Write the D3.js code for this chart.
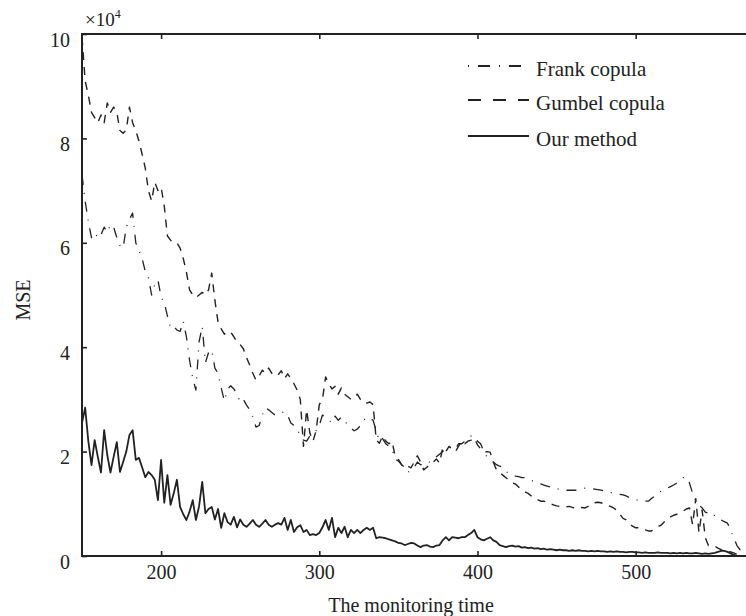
<!DOCTYPE html>
<html><head><meta charset="utf-8">
<script src="https://cdn.jsdelivr.net/npm/d3@7"></script>
<style>
html,body{margin:0;padding:0;background:#fff;}
svg text{font-family:"Liberation Serif","Times New Roman",serif;fill:#222;}
</style></head><body>
<svg id="chart" width="746" height="616"></svg>
<script>
// monitoring time, one sample every 2 units
const time = d3.range(150, 571, 2);

const frank = [
  7.3, 6.8, 6.4, 6.1, 6.05, 6.2, 6.15, 6.3, 6.2, 6.35,
  6.3, 6.1, 5.95, 5.9, 6.3, 6.45, 6.57, 6.0, 5.85, 5.7,
  5.45, 5.33, 5.0, 5.2, 5.29, 4.96, 4.85, 4.6, 4.37, 4.4,
  4.33, 4.3, 4.5, 4.2, 3.75, 3.4, 3.18, 4.1, 4.4, 3.7,
  3.9, 3.95, 3.6, 3.5, 3.22, 2.97, 3.2, 3.26, 3.2, 3.1,
  2.95, 3.0, 2.89, 2.8, 2.66, 2.47, 2.5, 2.7, 2.84, 2.8,
  2.75, 2.7, 2.72, 2.75, 2.76, 2.7, 2.55, 2.5, 2.4, 2.34,
  2.22, 2.2, 2.3, 2.35, 2.4, 2.5, 2.7, 2.65, 2.6, 2.55,
  2.68, 2.6, 2.66, 2.6, 2.5, 2.45, 2.4, 2.43, 2.5, 2.6,
  2.66, 2.64, 2.6, 2.4, 2.2, 2.25, 2.15, 2.1, 2.05, 1.85,
  1.82, 1.75, 1.7, 1.6, 1.65, 1.7, 1.8, 1.75, 1.75, 1.8,
  1.8, 1.85, 1.9, 1.95, 2.0, 2.05, 2.1, 2.05, 2.05, 2.15,
  2.15, 2.2, 2.25, 2.3, 2.3, 2.2, 2.15, 2.0, 1.9, 1.85,
  1.8, 1.75, 1.72, 1.7, 1.62, 1.58, 1.55, 1.53, 1.52, 1.5,
  1.5, 1.48, 1.45, 1.42, 1.4, 1.38, 1.36, 1.34, 1.32, 1.3,
  1.29, 1.28, 1.27, 1.26, 1.26, 1.26, 1.26, 1.27, 1.28, 1.3,
  1.3, 1.29, 1.28, 1.27, 1.26, 1.25, 1.24, 1.22, 1.2, 1.19,
  1.18, 1.17, 1.15, 1.12, 1.1, 1.08, 1.06, 1.05, 1.05, 1.05,
  1.1, 1.15, 1.2, 1.24, 1.26, 1.3, 1.33, 1.36, 1.4, 1.45,
  1.5, 1.51, 1.4, 1.2, 1.05, 0.98, 0.92, 0.84, 0.82, 0.76,
  0.78, 0.72, 0.69, 0.66, 0.63, 0.5, 0.35, 0.2, 0.12, 0.08,
  0.05
];

const gumbel = [
  9.94, 9.1, 8.83, 8.5, 8.4, 8.3, 8.45, 8.3, 8.68, 8.5,
  8.6, 8.5, 8.15, 8.1, 8.16, 8.6, 8.3, 8.15, 7.95, 7.7,
  7.43, 7.0, 6.8, 7.16, 7.0, 7.07, 6.7, 6.13, 6.05, 6.0,
  6.0, 5.9, 5.7, 5.44, 5.1, 5.0, 4.95, 5.0, 5.05, 5.0,
  5.1, 5.42, 4.9, 4.48, 4.35, 4.25, 4.3, 4.29, 4.2, 4.1,
  4.05, 3.97, 3.8, 3.66, 3.5, 3.37, 3.45, 3.56, 3.5, 3.6,
  3.5, 3.45, 3.47, 3.55, 3.4, 3.49, 3.4, 3.3, 3.18, 3.0,
  2.1, 2.8, 2.36, 2.2, 2.4, 2.9, 3.0, 3.43, 3.3, 3.2,
  3.25, 3.1, 3.22, 3.1, 3.05, 3.0, 3.03, 3.1, 3.0, 2.93,
  2.93, 2.95, 2.9, 2.22, 2.16, 2.3, 2.2, 2.15, 2.2, 1.9,
  1.85, 1.75, 1.69, 1.72, 1.69, 1.8, 1.92, 1.8, 1.65, 1.7,
  1.75, 1.8, 1.86, 1.78, 2.07, 2.0, 2.1, 2.05, 2.0, 2.1,
  2.2, 2.15, 2.2, 2.22, 2.26, 2.13, 2.05, 1.99, 2.0, 1.99,
  1.8, 1.65, 1.6, 1.55, 1.5, 1.45, 1.4, 1.38, 1.32, 1.28,
  1.23, 1.2, 1.15, 1.1, 1.08, 1.05, 1.05, 1.03, 1.0, 0.98,
  0.96, 0.95, 0.94, 0.94, 0.95, 0.93, 0.92, 0.92, 0.93, 0.92,
  0.95, 0.98, 1.02, 1.03, 1.02, 1.0, 0.97, 0.95, 0.92, 0.88,
  0.8, 0.72, 0.69, 0.62, 0.57, 0.54, 0.54, 0.52, 0.5, 0.48,
  0.48, 0.52, 0.56, 0.59, 0.65, 0.7, 0.75, 0.78, 0.8, 0.84,
  0.86, 0.9, 0.92, 0.6, 1.1, 0.45, 0.88, 0.35, 0.2, 0.19,
  0.19, 0.15, 0.12, 0.1, 0.08, 0.08, 0.06, 0.03, 0.01, 0.0,
  0.0
];

const ours = [
  2.55, 2.84, 2.2, 1.74, 2.22, 1.9, 1.6, 2.41, 1.93, 1.6,
  1.9, 2.18, 1.61, 1.8, 2.0, 2.32, 2.41, 1.84, 1.88, 1.7,
  1.51, 1.61, 1.55, 1.46, 1.07, 1.84, 1.02, 1.55, 0.98, 1.2,
  1.46, 0.94, 0.8, 0.69, 0.85, 1.07, 0.69, 0.95, 1.42, 0.82,
  0.9, 0.94, 0.7, 0.9, 0.54, 0.82, 0.65, 0.6, 0.75, 0.55,
  0.7, 0.6, 0.56, 0.62, 0.69, 0.6, 0.56, 0.62, 0.69, 0.6,
  0.56, 0.6, 0.63, 0.6, 0.73, 0.5, 0.69, 0.46, 0.55, 0.59,
  0.46, 0.5, 0.4, 0.42, 0.4, 0.44, 0.55, 0.69, 0.5, 0.73,
  0.36, 0.54, 0.44, 0.56, 0.36, 0.5, 0.44, 0.5, 0.44, 0.5,
  0.54, 0.5, 0.54, 0.34, 0.36, 0.35, 0.34, 0.32, 0.3, 0.28,
  0.25, 0.24, 0.21, 0.23, 0.25, 0.24, 0.2, 0.17, 0.2, 0.21,
  0.18, 0.17, 0.2, 0.21, 0.3, 0.36, 0.3, 0.36, 0.35, 0.34,
  0.36, 0.36, 0.4, 0.44, 0.5, 0.36, 0.32, 0.3, 0.33, 0.36,
  0.3, 0.27, 0.21, 0.19, 0.17, 0.19, 0.2, 0.18, 0.19, 0.16,
  0.17, 0.15, 0.16, 0.14, 0.15, 0.13, 0.14, 0.12, 0.13, 0.12,
  0.11, 0.12, 0.11, 0.11, 0.1, 0.11, 0.1, 0.11, 0.1, 0.1,
  0.09, 0.1, 0.09, 0.1, 0.09, 0.09, 0.08, 0.09, 0.08, 0.09,
  0.08, 0.08, 0.07, 0.08, 0.08, 0.07, 0.07, 0.06, 0.07, 0.06,
  0.06, 0.06, 0.07, 0.06, 0.06, 0.06, 0.05, 0.06, 0.05, 0.06,
  0.05, 0.06, 0.05, 0.05, 0.06, 0.05, 0.04, 0.05, 0.04, 0.05,
  0.06, 0.08, 0.1, 0.1, 0.08, 0.05, 0.02, 0.0, 0.0, 0.0,
  0.0
];

const xTicks = [200, 300, 400, 500];
const yTicks = [0, 2, 4, 6, 8, 10];
const seriesNames = ["Frank copula", "Gumbel copula", "Our method"];

const ink = "#222";
const L = 82, R = 748, T = 34, B = 556;
const svg = d3.select("#chart");
const x = d3.scaleLinear().domain([150, 571]).range([L, R]);
const y = d3.scaleLinear().domain([0, 10]).range([B, T]);

svg.append("defs").append("clipPath").attr("id", "clip")
  .append("rect").attr("x", L).attr("y", T).attr("width", R - L).attr("height", B - T);

const series = [
  {name: seriesNames[0], values: frank, dash: "10,8,1,8", legDash: "1,9,12,9", w: 1.3},
  {name: seriesNames[1], values: gumbel, dash: "8,7", legDash: "13,12", w: 1.4},
  {name: seriesNames[2], values: ours, dash: null, legDash: null, w: 1.8}
];

const line = d3.line().x(d => x(d[0])).y(d => y(d[1]));
const g = svg.append("g").attr("clip-path", "url(#clip)");
series.forEach(s => {
  g.append("path")
    .datum(time.map((t, i) => [t, s.values[i]]))
    .attr("d", line)
    .attr("fill", "none")
    .attr("stroke", ink)
    .attr("stroke-width", s.w)
    .attr("stroke-linejoin", "round")
    .attr("stroke-dasharray", s.dash);
});

// axes
const fs = "20px";
const xAxis = svg.append("g").attr("transform", `translate(0,${B})`)
  .call(d3.axisBottom(x).tickValues(xTicks).tickSizeInner(-5).tickSizeOuter(0).tickPadding(9));
const xTop = svg.append("g").attr("transform", `translate(0,${T})`)
  .call(d3.axisTop(x).tickValues(xTicks).tickSizeInner(-5).tickSizeOuter(0).tickFormat(""));
const yAxis = svg.append("g").attr("transform", `translate(${L},0)`)
  .call(d3.axisLeft(y).tickValues(yTicks).tickSizeInner(-5).tickSizeOuter(0).tickPadding(12));
[xAxis, xTop, yAxis].forEach(a => {
  a.select(".domain").remove();
  a.selectAll(".tick line").attr("stroke", ink).attr("stroke-width", 1.6);
  a.selectAll(".tick text").attr("font-size", fs).attr("fill", ink)
    .style("font-family", '"Liberation Serif", serif');
});
yAxis.selectAll(".tick text").attr("dy", "0.6em");

// frame
svg.append("rect").attr("x", L).attr("y", T).attr("width", R - L).attr("height", B - T)
  .attr("fill", "none").attr("stroke", ink).attr("stroke-width", 2);

// exponent
const ex = svg.append("text").attr("x", 85).attr("y", 26).attr("font-size", "19px");
ex.append("tspan").text("×10");
ex.append("tspan").attr("font-size", "12px").attr("dy", "-8").text("4");

// axis titles
svg.append("text").attr("x", 411).attr("y", 612).attr("text-anchor", "middle")
  .attr("font-size", fs).text("The monitoring time");
svg.append("text").attr("transform", "translate(30,300) rotate(-90)")
  .attr("text-anchor", "middle").attr("font-size", fs).text("MSE");

// legend
const legY = [66, 100, 136];
const leg = svg.append("g");
series.forEach((s, i) => {
  leg.append("line").attr("x1", 468).attr("x2", 529).attr("y1", legY[i]).attr("y2", legY[i])
    .attr("stroke", ink).attr("stroke-width", 1.8).attr("stroke-dasharray", s.legDash);
  leg.append("text").attr("x", 536).attr("y", legY[i] + 10).attr("font-size", "21px").text(s.name);
});
</script>
</body></html>
